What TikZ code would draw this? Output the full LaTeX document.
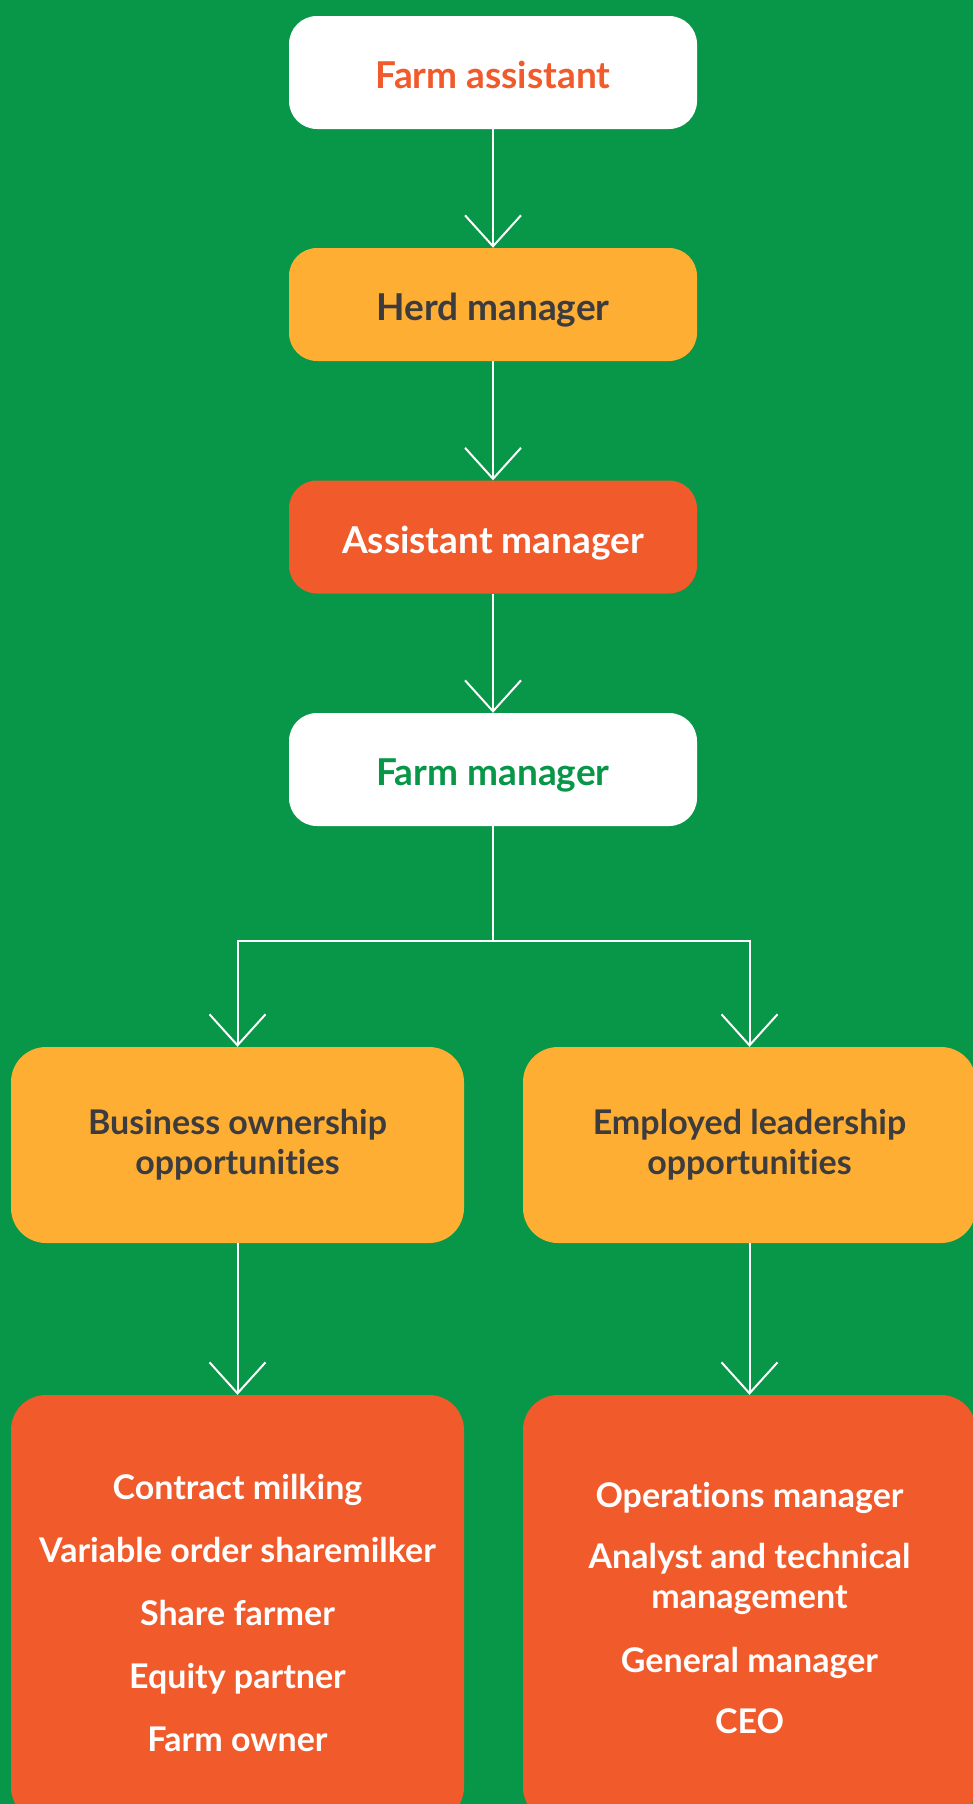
\documentclass[tikz,border=0pt]{standalone}
\usepackage{fontspec}
\setmainfont{Lato}[Ligatures=NoCommon]
\usetikzlibrary{positioning}
\usetikzlibrary{arrows.meta}
\definecolor{farmgreen}{HTML}{089648}
\definecolor{farmorange}{HTML}{F15A2B}
\definecolor{farmamber}{HTML}{FEAE33}
\definecolor{farmdark}{HTML}{3C3C3E}

\begin{document}
\begin{tikzpicture}[x=1pt, y=-1pt,
		every node/.style={font=\fontsize{34}{40}\selectfont\bfseries, inner sep=0pt, align=center},
		stage/.style={rounded corners=28pt, minimum width=408pt, minimum height=113pt, font=\fontsize{37}{44}\selectfont\bfseries, text height=32pt, text depth=0pt},
		route/.style={rounded corners=35pt, minimum width=453pt, minimum height=196pt},
		jobs/.style={rounded corners=35pt, minimum width=453pt, minimum height=427pt, fill=farmorange, text=white},
		link/.style={white, line width=2pt, -{Straight Barb[length=31pt,width=56pt]}}]
				\fill[farmgreen] (0,0) rectangle (973,1804);
				\clip (0,0) rectangle (973,1804);

				\node[stage,fill=white,text=farmorange] (FA) at (493,72.5) {Farm assistant};
				\node[stage,fill=farmamber,text=farmdark] (HM) at (493,304.5) {Herd manager};
				\node[stage,fill=farmorange,text=white] (AM) at (493,537) {Assistant manager};
				\node[stage,fill=white,text=farmgreen] (FM) at (493,769.5) {Farm manager};

				\node[route,fill=farmamber,text=farmdark] (BO) at (237.5,1145) {Business ownership\\opportunities};
				\node[route,fill=farmamber,text=farmdark] (EL) at (749.5,1145) {Employed leadership\\opportunities};

				\node[jobs] (OWN) at (237.5,1608.5) {\rule{0pt}{35pt}Contract milking\\[23pt] Variable order sharemilker\\[23pt] Share farmer\\[23pt] Equity partner\\[23pt] Farm owner};
				\node[jobs] (LEAD) at (749.5,1608.5) {Operations manager\\[21pt] Analyst and technical\\ management\\[24pt] General manager\\[21pt] CEO};

				\coordinate (Split) at (493,941);

				\draw[link] (FA) -- (HM);
				\draw[link] (HM) -- (AM);
				\draw[link] (AM) -- (FM);
				\draw[white, line width=2pt] (FM) -- (Split);
				\draw[link] (Split) -| (BO);
				\draw[link] (Split) -| (EL);
				\draw[link] (BO) -- (OWN);
				\draw[link] (EL) -- (LEAD);
			\end{tikzpicture}
\end{document}
